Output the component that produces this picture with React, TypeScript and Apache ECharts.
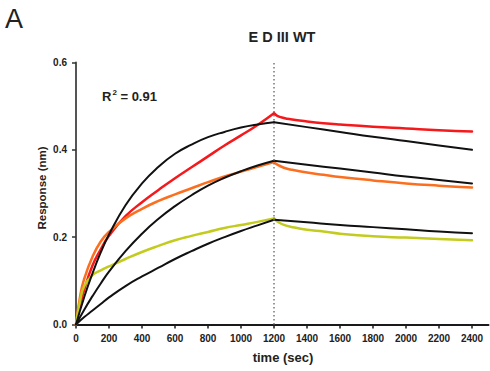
import React, { useEffect, useRef } from "react";
import * as echarts from "echarts";

// ---- Data ----
const xTicks = [0, 200, 400, 600, 800, 1000, 1200, 1400, 1600, 1800, 2000, 2200, 2400];
const yTicks = [0, 0.2, 0.4, 0.6];

// experimental association phase
const expAssocTime = [0, 25, 50, 100, 150, 200, 300, 400, 500, 600, 700, 800, 900, 1000, 1100, 1200];
const redAssoc = [0, 0.045, 0.08, 0.135, 0.172, 0.203, 0.248, 0.28, 0.308, 0.335, 0.36, 0.385, 0.41, 0.433, 0.457, 0.484];
const orangeAssoc = [0, 0.065, 0.105, 0.155, 0.19, 0.212, 0.243, 0.265, 0.283, 0.298, 0.312, 0.326, 0.339, 0.35, 0.361, 0.372];
const yellowAssoc = [0, 0.055, 0.088, 0.113, 0.124, 0.133, 0.15, 0.166, 0.18, 0.193, 0.203, 0.212, 0.221, 0.228, 0.235, 0.243];

// experimental dissociation phase
const expDissocTime = [1200, 1220, 1260, 1300, 1400, 1500, 1600, 1800, 2000, 2200, 2400];
const redDissoc = [0.484, 0.478, 0.473, 0.47, 0.465, 0.461, 0.458, 0.453, 0.449, 0.445, 0.442];
const orangeDissoc = [0.372, 0.366, 0.359, 0.355, 0.348, 0.343, 0.338, 0.33, 0.323, 0.318, 0.314];
const yellowDissoc = [0.243, 0.236, 0.228, 0.224, 0.217, 0.213, 0.208, 0.202, 0.199, 0.196, 0.193];

// fitted curves (black)
const fitAssocTime = [0, 50, 100, 150, 200, 300, 400, 500, 600, 700, 800, 900, 1000, 1100, 1200];
const fitTopAssoc = [0, 0.063, 0.117, 0.165, 0.206, 0.273, 0.323, 0.361, 0.391, 0.412, 0.429, 0.441, 0.451, 0.458, 0.463];
const fitMidAssoc = [0, 0.034, 0.065, 0.094, 0.121, 0.168, 0.208, 0.242, 0.271, 0.296, 0.318, 0.336, 0.351, 0.364, 0.375];
const fitLowAssoc = [0, 0.017, 0.032, 0.047, 0.062, 0.088, 0.11, 0.13, 0.15, 0.168, 0.185, 0.2, 0.214, 0.227, 0.24];

const fitDissocTime = [1200, 1400, 1600, 1800, 2000, 2200, 2400];
const fitTopDissoc = [0.463, 0.452, 0.441, 0.43, 0.42, 0.41, 0.4];
const fitMidDissoc = [0.375, 0.366, 0.357, 0.348, 0.339, 0.331, 0.323];
const fitLowDissoc = [0.24, 0.234, 0.228, 0.223, 0.218, 0.213, 0.209];

const injectionTime = 1200;

const FONT = "'Liberation Sans', Arial, Helvetica, sans-serif";

const zip = (t: number[], v: number[]) => t.map((x, i) => [x, v[i]]);

export default function App() {
  const ref = useRef<HTMLDivElement>(null);

  useEffect(() => {
    if (!ref.current) return;
    const chart = echarts.init(ref.current, undefined, { renderer: "svg" });

    const line = (name: string, t: number[], v: number[], color: string, width: number, z: number) => ({
      name,
      type: "line",
      data: zip(t, v),
      showSymbol: false,
      smooth: 0.5,
      lineStyle: { color, width, cap: "round", join: "round" },
      itemStyle: { color },
      z,
    });

    const RED = "#f5191c";
    const ORANGE = "#fb6f1f";
    const YELLOW = "#c3cb1f";
    const BLACK = "#111111";

    chart.setOption({
      animation: false,
      backgroundColor: "#ffffff",
      grid: { left: 76, right: 1.5, top: 62.5, bottom: 46.5, containLabel: false },
      xAxis: {
        type: "value",
        min: 0,
        max: 2500,
        axisLine: { show: true, lineStyle: { color: "#1a1a1a", width: 2 } },
        axisTick: { show: true, length: 4, lineStyle: { color: "#1a1a1a", width: 1.5 }, customValues: xTicks },
        axisLabel: {
          customValues: xTicks,
          margin: 9,
          fontFamily: FONT,
          fontWeight: "bold",
          fontSize: 10,
          color: "#222",
          formatter: (v: number) => String(v),
        },
        splitLine: { show: false },
      },
      yAxis: {
        type: "value",
        min: 0,
        max: 0.6,
        interval: 0.2,
        axisLine: { show: true, lineStyle: { color: "#555", width: 2 } },
        axisTick: { show: true, length: 4, lineStyle: { color: "#333", width: 1.5 }, customValues: yTicks },
        axisLabel: {
          customValues: yTicks,
          margin: 9,
          fontFamily: FONT,
          fontWeight: "bold",
          fontSize: 10,
          color: "#222",
          formatter: (v: number) => v.toFixed(1),
        },
        splitLine: { show: false },
      },
      graphic: [
        { type: "text", left: 5, top: 5, style: { text: "A", font: `27px ${FONT}`, fill: "#222" } },
        {
          type: "text",
          x: 282,
          y: 37,
          style: { text: "E D III WT", font: `bold 14.5px ${FONT}`, fill: "#222", align: "center", verticalAlign: "middle" },
        },
        {
          type: "text",
          x: 102,
          y: 96,
          style: {
            text: "{r|R}{s|2}{r| = 0.91}",
            verticalAlign: "middle",
            rich: {
              r: { font: `bold 13px ${FONT}`, fill: "#222" },
              s: { font: `bold 8px ${FONT}`, fill: "#222", verticalAlign: "top", padding: [0, 0, 8, 1] },
            },
          },
        },
        {
          type: "text",
          x: 42,
          y: 188,
          rotation: Math.PI / 2,
          style: { text: "Response (nm)", font: `bold 11.5px ${FONT}`, fill: "#222", align: "center", verticalAlign: "middle" },
        },
        {
          type: "text",
          x: 283,
          y: 357,
          style: { text: "time (sec)", font: `bold 13px ${FONT}`, fill: "#222", align: "center", verticalAlign: "middle" },
        },
      ],
      series: [
        {
          ...line("Red association", expAssocTime, redAssoc, RED, 2.5, 3),
          markLine: {
            silent: true,
            symbol: "none",
            label: { show: false },
            lineStyle: { color: "#777", type: [1.5, 2.5], width: 1.5 },
            data: [{ xAxis: injectionTime }],
          },
        },
        line("Red dissociation", expDissocTime, redDissoc, RED, 2.5, 3),
        line("Orange association", expAssocTime, orangeAssoc, ORANGE, 2.5, 3),
        line("Orange dissociation", expDissocTime, orangeDissoc, ORANGE, 2.5, 3),
        line("Yellow association", expAssocTime, yellowAssoc, YELLOW, 2.5, 3),
        line("Yellow dissociation", expDissocTime, yellowDissoc, YELLOW, 2.5, 3),
        line("Fit high association", fitAssocTime, fitTopAssoc, BLACK, 2, 4),
        line("Fit high dissociation", fitDissocTime, fitTopDissoc, BLACK, 2, 4),
        line("Fit mid association", fitAssocTime, fitMidAssoc, BLACK, 2, 4),
        line("Fit mid dissociation", fitDissocTime, fitMidDissoc, BLACK, 2, 4),
        line("Fit low association", fitAssocTime, fitLowAssoc, BLACK, 2, 4),
        line("Fit low dissociation", fitDissocTime, fitLowDissoc, BLACK, 2, 4),
      ],
    });

    return () => chart.dispose();
  }, []);

  return <div ref={ref} style={{ position: "fixed", left: 0, top: 0, width: 490, height: 371, background: "#fff" }} />;
}
